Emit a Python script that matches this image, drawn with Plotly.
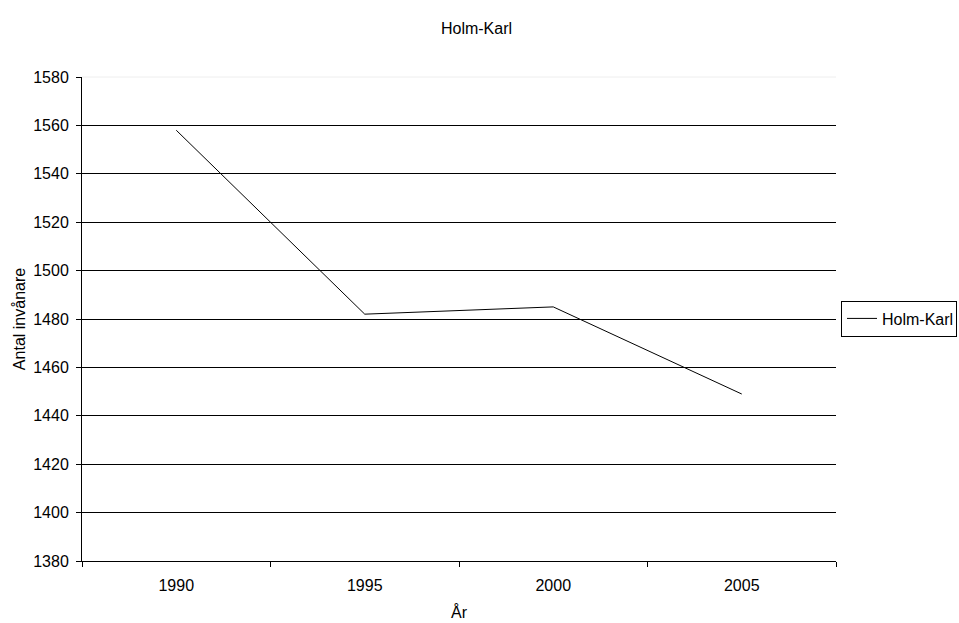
import plotly.graph_objects as go

years = ["1990", "1995", "2000", "2005"]
population = [1558, 1482, 1485, 1449]
series_name = "Holm-Karl"
y_ticks = [1380, 1400, 1420, 1440, 1460, 1480, 1500, 1520, 1540, 1560, 1580]

font_family = "Liberation Sans, Arial, sans-serif"
fs = 16

fig = go.Figure()
fig.add_trace(go.Scatter(
    x=years, y=population, mode="lines", name=series_name,
    line=dict(color="black", width=1),
    showlegend=True,
))

fig.update_layout(
    width=959, height=623,
    margin=dict(l=82, r=123, t=77, b=62, autoexpand=False),
    paper_bgcolor="white", plot_bgcolor="white",
    font=dict(family=font_family, size=fs, color="black"),
    title=dict(text=series_name, x=476.5 / 959, xanchor="center", y=1 - 28 / 623, yanchor="middle",
               font=dict(size=fs, family=font_family, color="black")),
    showlegend=True,
    legend=dict(x=(841 - 82) / 754, xanchor="left", y=0.501, yanchor="middle",
                orientation="h", entrywidth=69, entrywidthmode="pixels",
                bordercolor="black", borderwidth=1, bgcolor="white",
                font=dict(size=fs, family=font_family),
                itemwidth=30, tracegroupgap=0),
    xaxis=dict(
        type="category", range=[-0.5, 3.5],
        showline=True, linecolor="black", linewidth=1,
        ticks="outside", tickson="boundaries", ticklen=5, tickcolor="black",
        ticklabelstandoff=10,
        showgrid=False, zeroline=False,
        title=dict(text="År", standoff=13, font=dict(size=fs)),
    ),
    yaxis=dict(
        range=[1380, 1580], tickvals=y_ticks,
        showline=True, linecolor="black", linewidth=1,
        ticks="outside", ticklen=5, tickcolor="black",
        ticklabelstandoff=4,
        showgrid=True, gridcolor="black", gridwidth=1,
        zeroline=False,
        title=dict(text="Antal invånare", standoff=3, font=dict(size=fs)),
    ),
    shapes=[dict(type="line", xref="paper", yref="paper", x0=0, x1=1, y0=1, y1=1,
                 line=dict(color="#eeeeee", width=1), layer="above")],
)

fig.write_html("out.html", config={"displayModeBar": False},
               post_script="document.body.style.margin='0';document.body.style.overflow='hidden';")
